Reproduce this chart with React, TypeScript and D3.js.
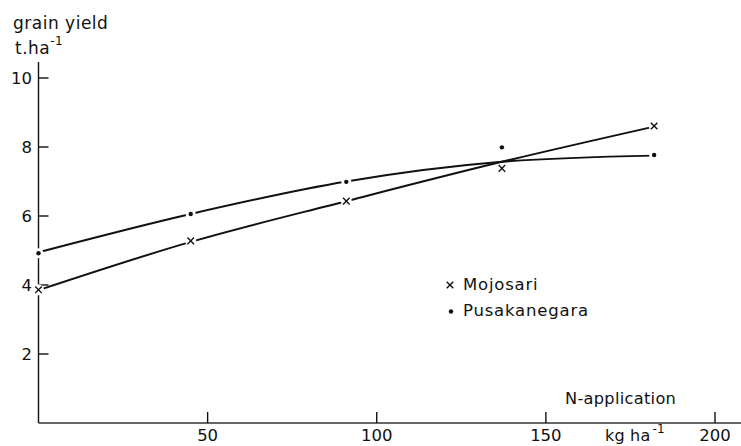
import React from "react";
import * as d3 from "d3";

// N-application (kg/ha)
const nRates = [0, 45, 91, 137, 182];
// observed grain yields (t/ha)
const mojosariYield = [3.86, 5.28, 6.43, 7.38, 8.61];
const pusakanegaraYield = [4.92, 6.06, 6.99, 7.99, 7.77];
// fitted response curves
const mojosariFit = [3.85, 5.25, 6.43, 7.57, 8.59];
const pusakanegaraFit = [4.95, 6.06, 7.0, 7.57, 7.75];

const yTicks = [2, 4, 6, 8, 10];
const xTicks = [50, 100, 150, 200];
const seriesNames = ["Mojosari", "Pusakanegara"];

const W = 741;
const H = 446;
const FONT = "'DejaVu Sans', sans-serif";
const INK = "#111";

export default function App() {
  const x = d3.scaleLinear().domain([0, 200]).range([38.5, 715]);
  const y = d3.scaleLinear().domain([0, 10]).range([423, 78]);
  const x0 = x(0);
  const y0 = y(0);

  const line = d3
    .line<[number, number]>()
    .x((d) => x(d[0]))
    .y((d) => y(d[1]))
    .curve(d3.curveMonotoneX);

  const mojoFitPts = nRates.map((n, i) => [n, mojosariFit[i]] as [number, number]);
  const pusaFitPts = nRates.map((n, i) => [n, pusakanegaraFit[i]] as [number, number]);

  const mojoPts = nRates.map((n, i) => [x(n), y(mojosariYield[i])]);
  const pusaPts = nRates.map((n, i) => [x(n), y(pusakanegaraYield[i])]);

  const cross = (cx: number, cy: number, s = 3.3, key?: string) => (
    <path
      key={key}
      d={`M${cx - s},${cy - s}L${cx + s},${cy + s}M${cx - s},${cy + s}L${cx + s},${cy - s}`}
      stroke={INK}
      strokeWidth={1.4}
      fill="none"
    />
  );

  return (
    <svg
      width={W}
      height={H}
      style={{ position: "absolute", left: 0, top: 0, background: "#fff" }}
      fontFamily={FONT}
    >
      <rect width={W} height={H} fill="#fff" />
      {/* axes */}
      <line x1={x0} y1={62} x2={x0} y2={y0} stroke={INK} strokeWidth={1.4} />
      <line x1={x0} y1={y0} x2={W} y2={y0} stroke="#333" strokeWidth={1.3} />
      {yTicks.map((t) => (
        <g key={"yt" + t}>
          <line x1={x0} x2={x0 + 10} y1={y(t)} y2={y(t)} stroke={INK} strokeWidth={1.4} />
          <text x={x0 - 6.5} y={y(t) + 6} textAnchor="end" fontSize={16.5} fill={INK}>
            {t}
          </text>
        </g>
      ))}
      {xTicks.map((t) => (
        <g key={"xt" + t}>
          <line x1={x(t)} x2={x(t)} y1={y0} y2={y0 - 11} stroke={INK} strokeWidth={1.4} />
          <text x={x(t)} y={441} textAnchor="middle" fontSize={16.5} fill={INK}>
            {t}
          </text>
        </g>
      ))}

      {/* curves */}
      <path d={line(pusaFitPts) || ""} fill="none" stroke={INK} strokeWidth={2} />
      <path d={line(mojoFitPts) || ""} fill="none" stroke={INK} strokeWidth={2} />

      {/* halos breaking the lines at markers */}
      {[0, 1, 2, 4].map((i) => (
        <g key={"h" + i}>
          <circle cx={mojoPts[i][0]} cy={mojoPts[i][1]} r={5.5} fill="#fff" />
          <circle cx={pusaPts[i][0]} cy={pusaPts[i][1]} r={5} fill="#fff" />
        </g>
      ))}

      {/* markers */}
      {mojoPts.map((p, i) => cross(p[0], p[1], 3.3, "m" + i))}
      {pusaPts.map((p, i) => (
        <circle key={"p" + i} cx={p[0]} cy={p[1]} r={2.2} fill={INK} />
      ))}

      {/* axis titles */}
      <text x={13} y={29} fontSize={17} letterSpacing={0.5} fill={INK}>
        grain yield
      </text>
      <text x={15} y={54} fontSize={17} letterSpacing={0.5} fill={INK}>
        t.ha
        <tspan fontSize={12} dy={-9}>-1</tspan>
      </text>
      <text x={565} y={404} fontSize={16.2} letterSpacing={0.3} fill={INK}>
        N-application
      </text>
      <text x={605} y={441} fontSize={16} letterSpacing={0.2} fill={INK}>
        kg ha
        <tspan fontSize={12} dy={-8} dx={2}>-1</tspan>
      </text>

      {/* legend */}
      {cross(450, 285, 3.3, "lg1")}
      <text x={463} y={290} fontSize={16.5} letterSpacing={0.8} fill={INK}>
        {seriesNames[0]}
      </text>
      <circle cx={451} cy={311.5} r={2.2} fill={INK} />
      <text x={463} y={316} fontSize={16.5} letterSpacing={0.8} fill={INK}>
        {seriesNames[1]}
      </text>
    </svg>
  );
}
